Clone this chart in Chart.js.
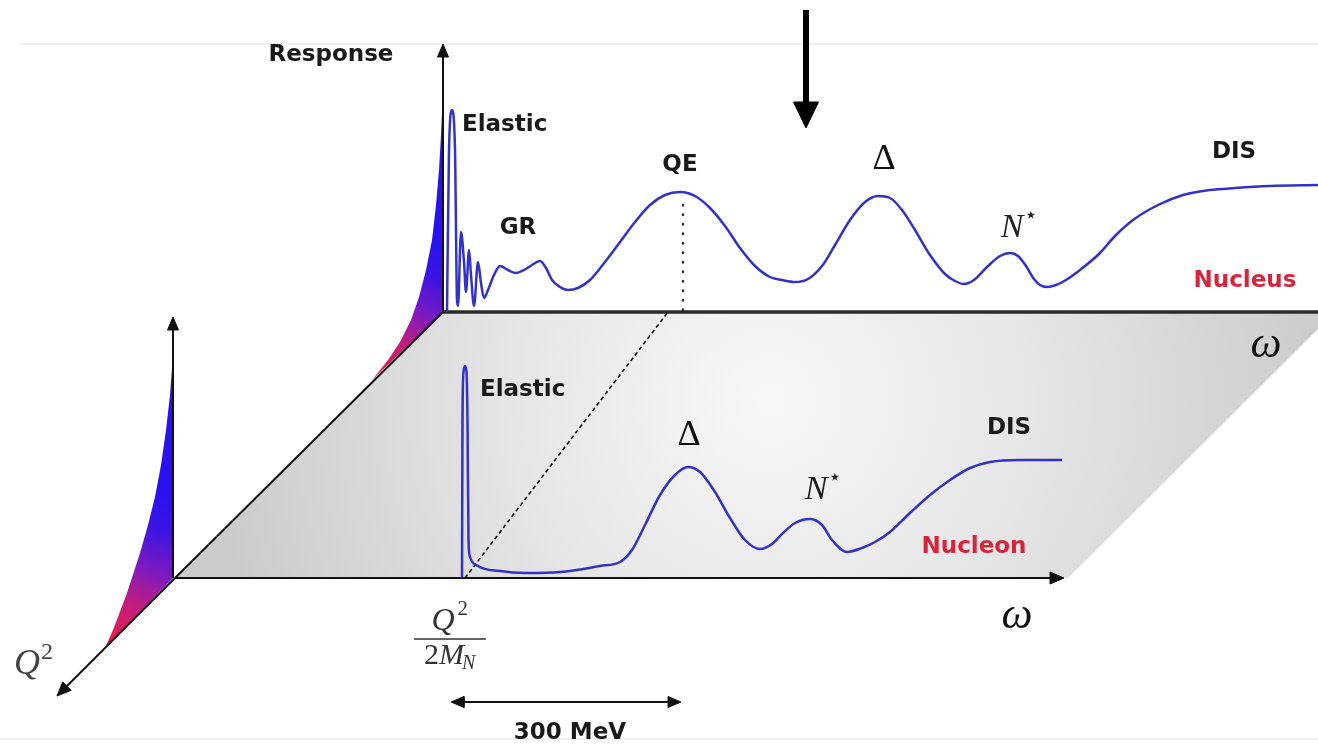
<!DOCTYPE html>
<html><head><meta charset="utf-8">
<script src="https://cdn.jsdelivr.net/npm/chart.js@4/dist/chart.umd.min.js"></script>
<style>html,body{margin:0;padding:0;background:#fff;overflow:hidden}#c{display:block}</style>
</head><body><canvas id="c" width="1318" height="748"></canvas>
<script>
// ---------- data (drawing units: x = omega axis, y = response, top-down) ----------
const nucleusOmega = [447,449,452,455,457,458,461,464,466,469,471,474,478,481,484,488,494,500,508,516,524,532,540,546,552,560,568,578,590,605,620,635,650,665,680,695,710,725,740,755,770,782,795,808,822,835,850,865,878,890,902,915,930,945,955,964,974,988,1000,1010,1018,1026,1034,1040,1047,1056,1066,1080,1100,1115,1133,1158,1183,1210,1235,1270,1318];
const nucleusResponse = [312,150,110,150,300,306,232,262,292,250,275,306,262,283,298,290,275,266,270,273,270,265,261,268,280,287,290,288,280,262,242,222,205,195,192,196,208,226,248,266,277,280,282,279,266,245,220,202,196,198,210,230,255,274,281,284,280,266,256,253,256,266,279,285,287,285,280,270,253,236,220,205,195,190,188,186,185];

const nucleonOmega = [462,462.5,463.5,465,466.5,467.5,468.5,470,478,500,525,560,600,620,632,645,660,675,688,700,715,730,745,760,772,783,795,810,822,832,847,862,875,890,910,930,950,970,990,1020,1062];
const nucleonResponse = [578,420,372,366,372,420,540,557,566,571,573,572,566,562,550,525,495,475,467,472,492,518,540,549,544,533,523,519,525,540,552,548,542,532,513,495,480,468,462,460,460];

// back (nucleus) Q2-profile fill and front (nucleon) Q2-profile fill
const backFillX = [372,388,400,411,419,426,432,436,439,441,442,443,443,372];
const backFillY = [380,360,342,320,297,270,240,205,170,135,112,104,312,380];
const frontFillX = [105,113,127,140,148,155,161,166,170,172,173,173,105];
const frontFillY = [648,630,593,553,525,497,465,430,395,368,360,578,648];

// omega-Q2 plane
const planeX = [175,443,1335,1068,175];
const planeY = [578,312,312,578,578];

// text labels
const labelText = ['Response','Elastic','GR','QE','Δ','N','DIS','Nucleus','ω','Elastic','Δ','N','DIS','Nucleon','ω','Q','300 MeV'];
const labelX    = [331,462,518,680,884,1018,1234,1245,1266,480,689,822,1009,974,1017,33,570];
const labelY    = [55,125,228,165,160,228,152,281,345,390,436,490,428,547,616,665,733];

// ---------- helpers ----------
const zip = (xs, ys) => xs.map((x, i) => ({x, y: ys[i]}));
const BLUE = '#3232c6';
const RED = '#d7263b';

function seg(x0, y0, x1, y1, o) {
  return Object.assign({data: [{x: x0, y: y0}, {x: x1, y: y1}], showLine: true, pointRadius: 0,
    borderColor: '#111', borderWidth: 2, fill: false, tension: 0}, o || {});
}
function head(tx, ty, fx, fy, len, hw, o) {
  const dx = tx - fx, dy = ty - fy, L = Math.hypot(dx, dy), ux = dx / L, uy = dy / L;
  const bx = tx - ux * len, by = ty - uy * len;
  const pts = [{x: tx, y: ty}, {x: bx - uy * hw, y: by + ux * hw}, {x: bx + uy * hw, y: by - ux * hw}, {x: tx, y: ty}];
  return Object.assign({data: pts, showLine: true, pointRadius: 0, borderColor: '#111', borderWidth: 1,
    backgroundColor: '#111', fill: 'shape', tension: 0, order: 1}, o || {});
}
function sx(c) { return c.chart.scales.x; }
function sy(c) { return c.chart.scales.y; }
function linGrad(c, x0, y0, x1, y1) {
  const X = sx(c), Y = sy(c);
  if (!X || !Y || !c.chart.chartArea) return '#6020c0';
  const g = c.chart.ctx.createLinearGradient(X.getPixelForValue(x0), Y.getPixelForValue(y0), X.getPixelForValue(x1), Y.getPixelForValue(y1));
  g.addColorStop(0, '#ea1f48');
  g.addColorStop(0.3, '#c41e7c');
  g.addColorStop(0.55, '#7c1ac0');
  g.addColorStop(0.8, '#3c14e2');
  g.addColorStop(1, '#2a12ee');
  return g;
}

const datasets = [];
// background faint rules
datasets.push(seg(20, 44, 1318, 44, {borderColor: '#f1f1f1', borderWidth: 2, order: 200}));
datasets.push(seg(0, 739, 1318, 739, {borderColor: '#f1f1f1', borderWidth: 2, order: 200}));
// plane
datasets.push({data: zip(planeX, planeY), showLine: true, pointRadius: 0, borderWidth: 0, borderColor: 'rgba(0,0,0,0)',
  tension: 0, fill: 'shape', order: 100,
  backgroundColor: (c) => {
    const X = sx(c), Y = sy(c);
    if (!X || !Y || !c.chart.chartArea) return '#ddd';
    const g = c.chart.ctx.createRadialGradient(X.getPixelForValue(770), Y.getPixelForValue(400), 10, X.getPixelForValue(770), Y.getPixelForValue(400), 560);
    g.addColorStop(0, '#f7f7f7');
    g.addColorStop(0.45, '#e6e6e6');
    g.addColorStop(1, '#cbcbcb');
    return g;
  }});
// Q2 profile fills
datasets.push({data: zip(backFillX, backFillY), showLine: true, pointRadius: 0, borderWidth: 0, borderColor: 'rgba(0,0,0,0)',
  tension: 0, fill: 'shape', order: 90, backgroundColor: (c) => linGrad(c, 376, 380, 443, 250)});
datasets.push({data: zip(frontFillX, frontFillY), showLine: true, pointRadius: 0, borderWidth: 0, borderColor: 'rgba(0,0,0,0)',
  tension: 0, fill: 'shape', order: 90, backgroundColor: (c) => linGrad(c, 108, 648, 173, 500)});
// plane edges and axes
datasets.push(seg(175, 578, 443, 312, {order: 50}));
datasets.push(seg(443, 312, 1318, 312, {borderColor: '#2a2a2a', borderWidth: 3.5, order: 50}));
datasets.push(seg(175, 578, 1052, 578, {order: 50}));
datasets.push(head(1064, 578, 175, 578, 14, 6));
datasets.push(seg(443, 312, 443, 56, {order: 50}));
datasets.push(head(443, 44, 443, 312, 13, 5.5));
datasets.push(seg(173, 578, 173, 328, {order: 50}));
datasets.push(head(173, 317, 173, 578, 13, 5.5));
datasets.push(seg(175, 578, 66, 687, {order: 50}));
datasets.push(head(57, 696, 175, 578, 14, 6));
// dashed / dotted guides
datasets.push(seg(465, 578, 668, 312, {borderWidth: 1.6, borderDash: [4, 3], order: 40}));
datasets.push(seg(683, 310, 683, 196, {borderWidth: 2.5, borderDash: [0.5, 9], borderCapStyle: 'round', borderColor: '#333', order: 40}));
// response curves
datasets.push({data: zip(nucleusOmega, nucleusResponse), showLine: true, pointRadius: 0, borderColor: BLUE, borderWidth: 2.5,
  fill: false, cubicInterpolationMode: 'monotone', order: 5});
datasets.push({data: zip(nucleonOmega, nucleonResponse), showLine: true, pointRadius: 0, borderColor: BLUE, borderWidth: 2.5,
  fill: false, cubicInterpolationMode: 'monotone', order: 5});
// top marker arrow
datasets.push(seg(806, 10, 806, 104, {borderColor: '#000', borderWidth: 6, order: 3}));
datasets.push(head(806, 128, 806, 10, 26, 12.5, {borderColor: '#000', backgroundColor: '#000'}));
// 300 MeV span arrow
datasets.push(seg(460, 702, 672, 702, {borderWidth: 2.2, order: 3}));
datasets.push(head(451, 702, 680, 702, 13, 5.5));
datasets.push(head(681, 702, 451, 702, 13, 5.5));

// ---------- text plugin ----------
const SANS = '"DejaVu Sans", sans-serif';
const SERIF = '"Liberation Serif", "DejaVu Serif", serif';
const labelStyle = [
  {f: 'bold 23px ' + SANS, c: '#1a1a1a'},          // Response
  {f: 'bold 23px ' + SANS, c: '#1a1a1a', a: 'left'}, // Elastic
  {f: 'bold 23px ' + SANS, c: '#1a1a1a'},          // GR
  {f: 'bold 23px ' + SANS, c: '#1a1a1a'},          // QE
  {f: '36px ' + SERIF, c: '#111'},                 // Delta
  {f: 'italic 34px ' + SERIF, c: '#222', sup: '⋆'}, // N*
  {f: 'bold 23px ' + SANS, c: '#1a1a1a'},          // DIS
  {f: 'bold 23px ' + SANS, c: RED},                // Nucleus
  {f: 'italic 44px ' + SERIF, c: '#111'},          // omega
  {f: 'bold 23px ' + SANS, c: '#1a1a1a', a: 'left'}, // Elastic
  {f: '36px ' + SERIF, c: '#111'},                 // Delta
  {f: 'italic 34px ' + SERIF, c: '#222', sup: '⋆'}, // N*
  {f: 'bold 23px ' + SANS, c: '#1a1a1a'},          // DIS
  {f: 'bold 23px ' + SANS, c: RED},                // Nucleon
  {f: 'italic 44px ' + SERIF, c: '#111'},          // omega
  {f: 'italic 36px ' + SERIF, c: '#444', sup: '2', supFont: '24px ' + SERIF}, // Q2
  {f: 'bold 23px ' + SANS, c: '#1a1a1a'}           // 300 MeV
];

const textPlugin = {
  id: 'texts',
  afterDatasetsDraw(chart) {
    const ctx = chart.ctx, X = chart.scales.x, Y = chart.scales.y;
    ctx.save();
    ctx.textBaseline = 'middle';
    labelText.forEach((t, i) => {
      const s = labelStyle[i];
      const px = X.getPixelForValue(labelX[i]), py = Y.getPixelForValue(labelY[i]);
      ctx.font = s.f; ctx.fillStyle = s.c;
      ctx.textAlign = s.a || 'center';
      if (s.sup) {
        ctx.textAlign = 'left';
        const w = ctx.measureText(t).width;
        const x0 = s.a === 'left' ? px : px - w / 2 - 6;
        ctx.fillText(t, x0, py);
        ctx.font = s.supFont || ('22px ' + SERIF);
        ctx.fillText(s.sup, x0 + w + 1, py - 12);
      } else {
        ctx.fillText(t, px, py);
      }
    });
    // fraction Q^2 / 2 M_N under the elastic peak
    const fx = X.getPixelForValue(450);
    ctx.textAlign = 'left';
    ctx.fillStyle = '#333';
    ctx.font = 'italic 32px ' + SERIF;
    const qw = ctx.measureText('Q').width;
    ctx.fillText('Q', fx - qw / 2 - 7, Y.getPixelForValue(622));
    ctx.font = '21px ' + SERIF;
    ctx.fillText('2', fx + qw / 2 - 4, Y.getPixelForValue(609));
    ctx.strokeStyle = '#333'; ctx.lineWidth = 1.6;
    ctx.beginPath(); ctx.moveTo(X.getPixelForValue(414), Y.getPixelForValue(639)); ctx.lineTo(X.getPixelForValue(486), Y.getPixelForValue(639)); ctx.stroke();
    ctx.font = '30px ' + SERIF;
    const tw = ctx.measureText('2').width;
    ctx.font = 'italic 30px ' + SERIF;
    const mw = ctx.measureText('M').width;
    const dx0 = fx - (tw + mw + 12) / 2;
    ctx.font = '30px ' + SERIF;
    ctx.fillText('2', dx0, Y.getPixelForValue(656));
    ctx.font = 'italic 30px ' + SERIF;
    ctx.fillText('M', dx0 + tw, Y.getPixelForValue(656));
    ctx.font = 'italic 20px ' + SERIF;
    ctx.fillText('N', dx0 + tw + mw - 2, Y.getPixelForValue(664));
    ctx.restore();
  }
};

new Chart(document.getElementById('c'), {
  type: 'scatter',
  data: {datasets},
  options: {
    responsive: false, animation: false, devicePixelRatio: 1,
    layout: {padding: 0},
    plugins: {legend: {display: false}, tooltip: {enabled: false}},
    events: [],
    elements: {point: {radius: 0}},
    scales: {
      x: {type: 'linear', min: 0, max: 1318, display: false},
      y: {type: 'linear', min: 0, max: 748, reverse: true, display: false}
    }
  },
  plugins: [textPlugin]
});
</script>
</body></html>
